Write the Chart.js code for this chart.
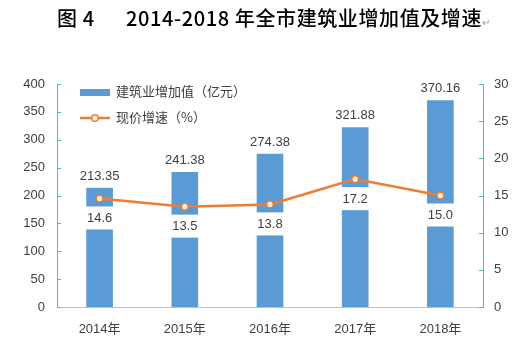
<!DOCTYPE html>
<html>
<head>
<meta charset="utf-8">
<script src="https://cdn.jsdelivr.net/npm/chart.js@4"></script>
<style>
  body { margin: 0; background: #fff; }
  #wrap { position: relative; width: 525px; height: 354px; font-family: "Noto Sans CJK SC", sans-serif; color: #000; }
  #chart { position: absolute; left: 0; top: 0; }
  .ttl { position: absolute; top: 5px; font-size: 20px; line-height: 26px; white-space: nowrap; font-weight: 500; letter-spacing: 0.6px; }
  .ret { font-size: 10px; color: #999; letter-spacing: 0; }
  .leg { position: absolute; left: 80px; font-size: 13px; color: #404040; white-space: nowrap; line-height: 16px; }
  .sw { display: inline-block; vertical-align: middle; margin-right: 6px; }
</style>
</head>
<body>
<div id="wrap">
  <canvas id="chart" width="525" height="354"></canvas>
  <div class="ttl" style="left:57px">图 4</div>
  <div class="ttl" style="left:126px">2014-2018 年全市建筑业增加值及增速<span class="ret">↵</span></div>
  <div class="leg" style="top:83px"><span class="sw" style="width:30px;height:7px;background:#5B9BD5"></span>建筑业增加值（亿元）</div>
  <div class="leg" style="top:109px"><svg class="sw" width="30" height="10"><line x1="0" y1="5" x2="30" y2="5" stroke="#ED7D31" stroke-width="2.5"/><circle cx="15" cy="5" r="3.3" fill="#FFF5E0" stroke="#ED7D31" stroke-width="1.5"/></svg>现价增速（%）</div>
</div>
<script>
const years = ["2014年", "2015年", "2016年", "2017年", "2018年"];
const valueAdded = [213.35, 241.38, 274.38, 321.88, 370.16];
const growthRate = [14.6, 13.5, 13.8, 17.2, 15.0];
const valueLabels = ["213.35", "241.38", "274.38", "321.88", "370.16"];
const growthLabels = ["14.6", "13.5", "13.8", "17.2", "15.0"];

const axisTeal = "#45BFC0";
const textColor = "#404040";
const labelFont = '13px "Liberation Sans", "Noto Sans CJK SC", sans-serif';

// data labels: bar values above bars, growth below points on white boxes
const labelPlugin = {
  id: "labels",
  afterDatasetsDraw(chart) {
    const ctx = chart.ctx;
    ctx.save();
    ctx.font = labelFont;
    ctx.textAlign = "center";
    ctx.textBaseline = "middle";
    chart.getDatasetMeta(0).data.forEach((bar, i) => {
      ctx.fillStyle = textColor;
      ctx.fillText(valueLabels[i], bar.x, bar.y - 12);
    });
    chart.getDatasetMeta(1).data.forEach((pt, i) => {
      const w = ctx.measureText(growthLabels[i]).width + 10;
      ctx.fillStyle = "#fff";
      ctx.fillRect(pt.x - w / 2, pt.y + 8, w, 23);
      ctx.fillStyle = textColor;
      ctx.fillText(growthLabels[i], pt.x, pt.y + 20);
    });
    ctx.restore();
  }
};

// small inward tick marks on both value axes
const tickPlugin = {
  id: "innerTicks",
  afterDraw(chart) {
    const ctx = chart.ctx;
    ctx.save();
    ctx.strokeStyle = axisTeal;
    ctx.lineWidth = 1;
    ["y", "y1"].forEach(id => {
      const s = chart.scales[id];
      const x0 = id === "y" ? s.right : s.left;
      const dir = id === "y" ? 1 : -1;
      s.ticks.forEach(t => {
        const y = Math.round(s.getPixelForValue(t.value)) + 0.5;
        ctx.beginPath();
        ctx.moveTo(x0, y);
        ctx.lineTo(x0 + dir * 4, y);
        ctx.stroke();
      });
    });
    ctx.restore();
  }
};

new Chart(document.getElementById("chart").getContext("2d"), {
  data: {
    labels: years,
    datasets: [
      { type: "bar", label: "建筑业增加值（亿元）", data: valueAdded, backgroundColor: "#5B9BD5",
        barThickness: 26, yAxisID: "y", order: 2 },
      { type: "line", label: "现价增速（%）", data: growthRate, borderColor: "#ED7D31", borderWidth: 2.5,
        pointRadius: 3.3, pointBackgroundColor: "#FFF5E0", pointBorderColor: "#ED7D31", pointBorderWidth: 1.5,
        tension: 0, yAxisID: "y1", order: 1 }
    ]
  },
  options: {
    responsive: false,
    animation: false,
    layout: { padding: { top: 84, left: 0, right: 0, bottom: 0 } },
    plugins: { legend: { display: false }, title: { display: false }, tooltip: { enabled: false } },
    scales: {
      x: {
        grid: { display: false, drawTicks: false },
        border: { color: "#BFBFBF", width: 1 },
        ticks: { color: textColor, font: { size: 13, family: '"Liberation Sans", "Noto Sans CJK SC", sans-serif' }, padding: 15 },
        afterFit(s) { s.height = 47; }
      },
      y: {
        position: "left", min: 0, max: 400,
        grid: { display: false, drawTicks: false },
        border: { color: axisTeal, width: 1 },
        ticks: { stepSize: 50, color: textColor, font: { size: 13, family: '"Liberation Sans", sans-serif' }, padding: 12 },
        afterFit(s) { s.width = 57; }
      },
      y1: {
        position: "right", min: 0, max: 30,
        grid: { display: false, drawTicks: false },
        border: { color: axisTeal, width: 1 },
        ticks: { stepSize: 5, color: textColor, font: { size: 13, family: '"Liberation Sans", sans-serif' }, padding: 11 },
        afterFit(s) { s.width = 42; }
      }
    }
  },
  plugins: [labelPlugin, tickPlugin]
});
</script>
</body>
</html>
